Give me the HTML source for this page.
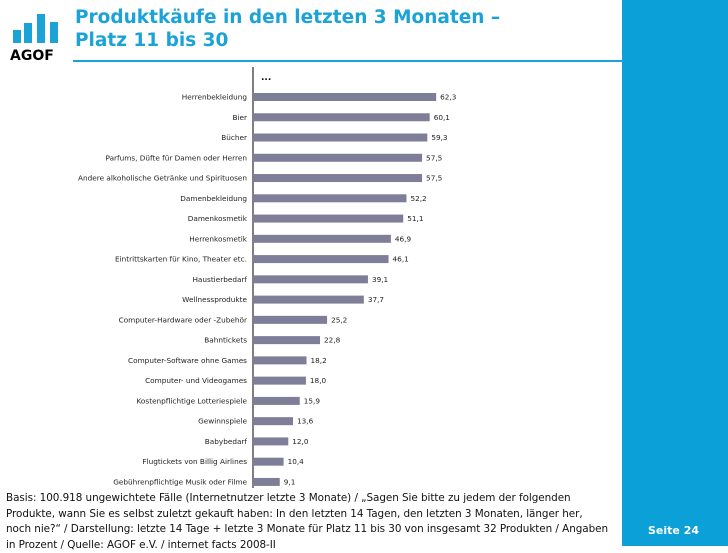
<!DOCTYPE html>
<html><head><meta charset="utf-8">
<style>
body{margin:0;width:728px;height:546px;background:#fff;position:relative;overflow:hidden;font-family:"Liberation Sans","DejaVu Sans",sans-serif}
.sidebar{position:absolute;left:622px;top:0;width:106px;height:546px;background:#0ba0d8}
.title{position:absolute;left:75px;top:6px;font-family:"DejaVu Sans",sans-serif;font-weight:bold;font-size:18.5px;line-height:23px;color:#1ba3d8}
.rule{position:absolute;left:73px;top:60px;width:549px;height:2px;background:#1ba3d8}
.foot{position:absolute;left:6px;top:491px;font-family:"DejaVu Sans",sans-serif;font-size:10.4px;line-height:15.5px;color:#111;white-space:nowrap;letter-spacing:-0.05px}
.seite{position:absolute;left:648px;top:524px;color:#fff;font-weight:bold;font-size:11px;font-family:"DejaVu Sans",sans-serif}
</style></head><body>
<div class="sidebar"></div>
<svg style="position:absolute;left:0;top:0" width="70" height="64">
<rect x="13" y="30" width="8" height="13" fill="#1ba3d8"/>
<rect x="24" y="23" width="8" height="20" fill="#1ba3d8"/>
<rect x="37" y="14" width="8" height="29" fill="#1ba3d8"/>
<rect x="50" y="22" width="8" height="21" fill="#1ba3d8"/>
<text x="10" y="60" font-family="DejaVu Sans" font-weight="bold" font-size="14" fill="#000">AGOF</text>
</svg>
<div class="title">Produktkäufe in den letzten 3 Monaten –<br>Platz 11 bis 30</div>
<div class="rule"></div>
<svg id="chart" style="position:absolute;left:0;top:62px" width="622" height="430"></svg>
<div class="foot">Basis: 100.918 ungewichtete Fälle (Internetnutzer letzte 3 Monate) / „Sagen Sie bitte zu jedem der folgenden<br>Produkte, wann Sie es selbst zuletzt gekauft haben: In den letzten 14 Tagen, den letzten 3 Monaten, länger her,<br>noch nie?“ / Darstellung: letzte 14 Tage + letzte 3 Monate für Platz 11 bis 30 von insgesamt 32 Produkten / Angaben<br>in Prozent / Quelle: AGOF e.V. / internet facts 2008-II</div>
<div class="seite">Seite 24</div>
<script>
const categories=["Herrenbekleidung","Bier","Bücher","Parfums, Düfte für Damen oder Herren","Andere alkoholische Getränke und Spirituosen","Damenbekleidung","Damenkosmetik","Herrenkosmetik","Eintrittskarten für Kino, Theater etc.","Haustierbedarf","Wellnessprodukte","Computer-Hardware oder -Zubehör","Bahntickets","Computer-Software ohne Games","Computer- und Videogames","Kostenpflichtige Lotteriespiele","Gewinnspiele","Babybedarf","Flugtickets von Billig Airlines","Gebührenpflichtige Musik oder Filme"];
const values=[62.3,60.1,59.3,57.5,57.5,52.2,51.1,46.9,46.1,39.1,37.7,25.2,22.8,18.2,18.0,15.9,13.6,12.0,10.4,9.1];
const NS="http://www.w3.org/2000/svg";
const svg=document.getElementById('chart');
const x0=253, k=2.94;
const xs=v=>x0+v*k;
const ys=i=>35+i*20.26;
function mk(t,a){const e=document.createElementNS(NS,t);for(const n in a)e.setAttribute(n,a[n]);svg.appendChild(e);return e;}
const ax=mk('line',{x1:x0,y1:5,x2:x0,y2:426,stroke:'#000','stroke-width':1});


const dots=mk('text',{x:261,y:18,'font-size':9,'font-weight':'bold','font-family':'DejaVu Sans'});dots.textContent='...';


categories.forEach((c,i)=>{
 const y=ys(i);
 const r=mk('rect',{x:x0,y:y-4,width:xs(values[i])-x0,height:8,fill:'#7f7e98'});
 
 
 const l=mk('text',{x:247,y:y+2.5,'text-anchor':'end','font-size':7.3,'font-family':'DejaVu Sans',fill:'#222'});l.textContent=c;
 
 
 const v=mk('text',{x:xs(values[i])+4,y:y+2.5,'font-size':7.3,'font-family':'DejaVu Sans',fill:'#222'});v.textContent=values[i].toFixed(1).replace('.',',');
 
 
});
</script>
</body></html>
